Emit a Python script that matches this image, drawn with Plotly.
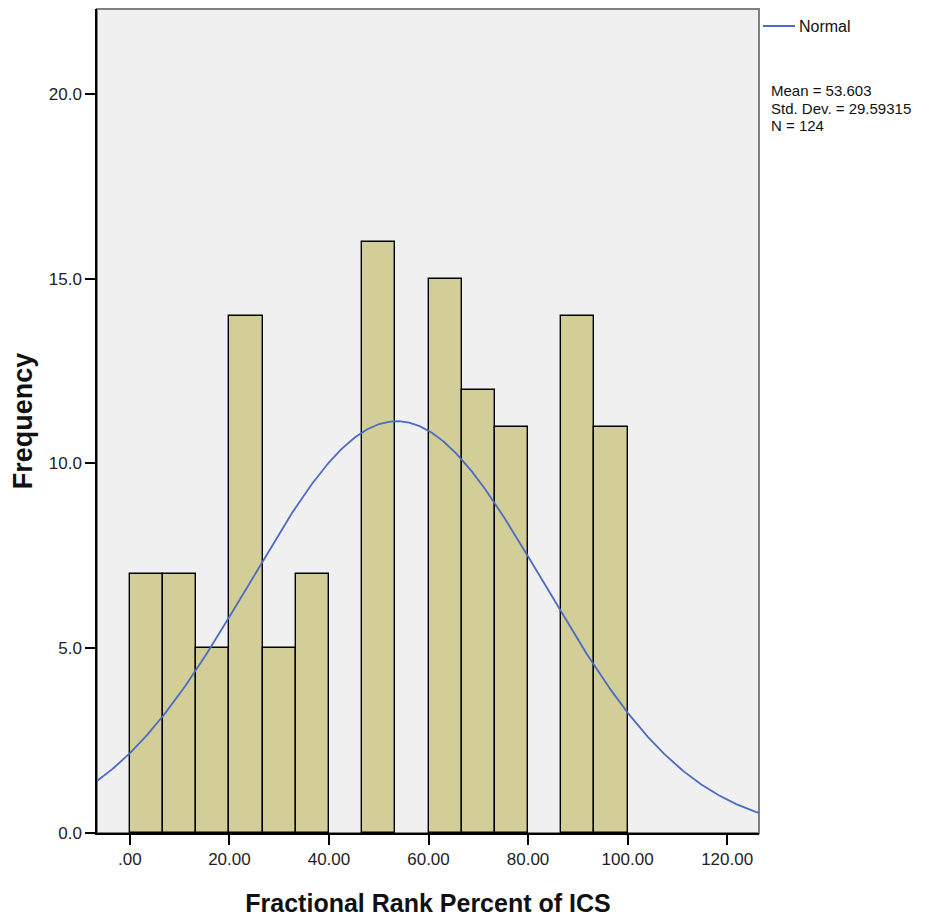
import numpy as np
import plotly.graph_objects as go

# Data
bin_start = 0.0
bin_width = 100.0 / 15
counts = [7, 7, 5, 14, 5, 7, 0, 16, 0, 15, 12, 11, 0, 14, 11]
mean = 53.603
std = 29.59315
n = 124
x_tick_vals = [0, 20, 40, 60, 80, 100, 120]
x_tick_text = [".00", "20.00", "40.00", "60.00", "80.00", "100.00", "120.00"]
y_tick_vals = [0, 5, 10, 15, 20]
y_tick_text = ["0.0", "5.0", "10.0", "15.0", "20.0"]
stats_lines = ["Mean = 53.603", "Std. Dev. = 29.59315", "N = 124"]

x_range = [-6.6, 126.4]
y_range = [0, 22.3]

centers = [bin_start + bin_width * (i + 0.5) for i in range(len(counts))]
bar_line_widths = [1.4 if c > 0 else 0 for c in counts]

xs = np.linspace(x_range[0], x_range[1], 400)
ys = n * bin_width / (std * np.sqrt(2 * np.pi)) * np.exp(-0.5 * ((xs - mean) / std) ** 2)

fig = go.Figure()
fig.add_trace(go.Bar(
    x=centers, y=counts, width=bin_width,
    marker=dict(color="#d3ce97", line=dict(color="#000000", width=bar_line_widths)),
    showlegend=False, hoverinfo="x+y",
))
fig.add_trace(go.Scatter(
    x=xs, y=ys, mode="lines", name="Normal", showlegend=False,
    line=dict(color="#4a6cc4", width=1.8),
))

font_family = "Liberation Sans, Arial, sans-serif"

# plot area in figure px: x 89..751, y 1..825
plot_w = 662.0
plot_h = 824.0

def px_x(p):  # pixels right of plot right edge -> paper
    return 1.0 + p / plot_w

def px_y(fig_y):  # figure y px -> paper
    return (825.0 - fig_y) / plot_h

annotations = [dict(
    xref="paper", yref="paper", x=px_x(38), y=px_y(18),
    xanchor="left", yanchor="middle", showarrow=False,
    text="Normal", font=dict(size=16, color="#111111"),
)]
for i, line in enumerate(stats_lines):
    annotations.append(dict(
        xref="paper", yref="paper", x=px_x(11), y=px_y(83 + 17 * i),
        xanchor="left", yanchor="middle", showarrow=False, borderpad=0,
        text=line, font=dict(size=15, color="#111111"),
    ))

fig.update_layout(
    width=940, height=918,
    margin=dict(l=89, r=189, t=1, b=93),
    paper_bgcolor="#ffffff",
    plot_bgcolor="#f0f0f0",
    font=dict(family=font_family, size=16, color="#222222"),
    bargap=0,
    showlegend=False,
    xaxis=dict(range=x_range, tickvals=x_tick_vals, ticktext=x_tick_text,
               showgrid=False, zeroline=False, showline=True,
               linecolor="#000000", linewidth=1.5,
               ticks="outside", ticklen=10, tickwidth=1.5, tickcolor="#000000",
               tickfont=dict(size=17, color="#222222"),
               title=dict(text="<b>Fractional Rank Percent of ICS</b>",
                          font=dict(size=25, color="#111111"), standoff=26)),
    yaxis=dict(range=y_range, tickvals=y_tick_vals, ticktext=y_tick_text,
               showgrid=False, zeroline=False, showline=True,
               linecolor="#000000", linewidth=1.5,
               ticks="outside", ticklen=10, tickwidth=1.5, tickcolor="#000000",
               tickfont=dict(size=17, color="#222222"),
               title=dict(text="<b>Frequency</b>",
                          font=dict(size=27, color="#111111"), standoff=14)),
    shapes=[
        dict(type="rect", xref="paper", yref="paper", x0=0, y0=0, x1=1, y1=1,
             line=dict(color="#7f7f7f", width=2), layer="below"),
        dict(type="line", xref="paper", yref="paper",
             x0=px_x(4), x1=px_x(36), y0=px_y(18), y1=px_y(18),
             line=dict(color="#4a6cc4", width=2)),
    ],
    annotations=annotations,
)

fig.write_html("out.html")
